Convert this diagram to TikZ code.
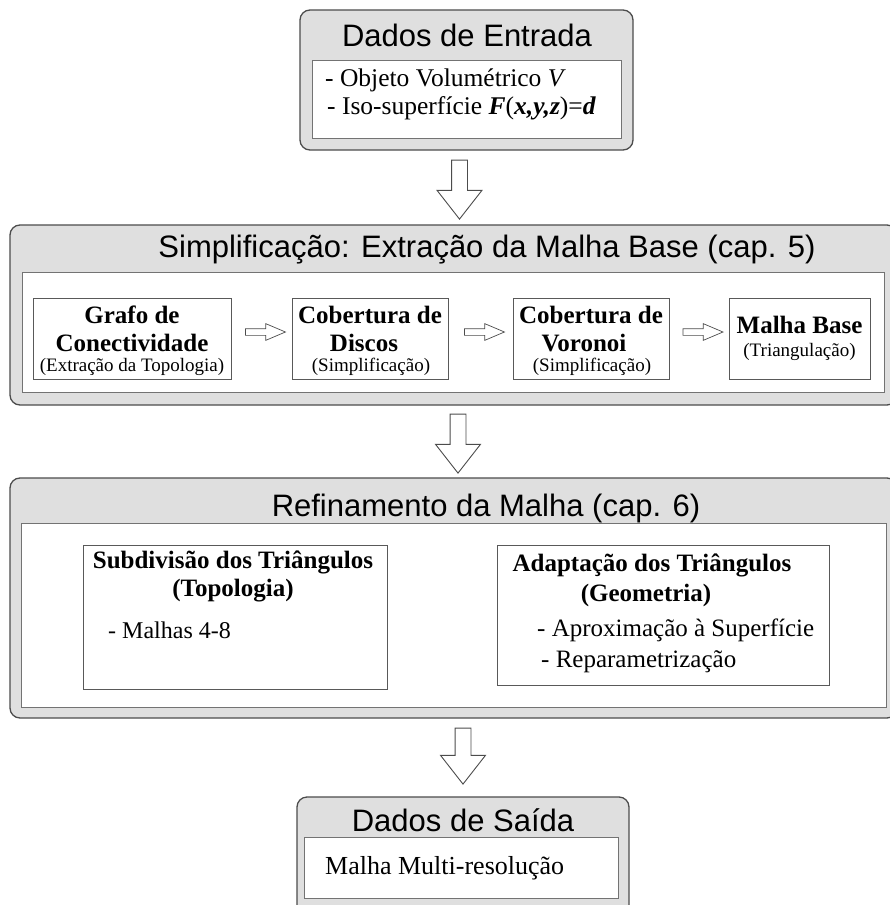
\documentclass[tikz,border=0pt]{standalone}
\usepackage{fontspec}
\setmainfont{Liberation Serif}
\newfontfamily\arialfont{Liberation Sans}
\usetikzlibrary{shapes.arrows,calc}

\begin{document}
\begin{tikzpicture}[x=1pt,y=-1pt]
        \tikzstyle{etapa}=[draw=black!70,line width=1.3pt,fill=gray!25,rounded corners=10pt,inner sep=0pt]
        \tikzstyle{painel}=[draw=black!55,line width=0.9pt,fill=white,inner sep=0pt]
        \tikzstyle{bloco}=[draw=black!65,line width=0.9pt,fill=white,inner sep=0pt]
        \tikzstyle{titulo}=[font=\arialfont\fontsize{31}{36}\selectfont,inner sep=0pt]
        \tikzstyle{negrito}=[font=\bfseries\fontsize{25}{28}\selectfont,inner sep=0pt]
        \tikzstyle{nota}=[font=\fontsize{19}{22}\selectfont,inner sep=0pt]
        \tikzstyle{linha}=[font=\fontsize{25}{28}\selectfont,anchor=west,inner sep=0pt]
        \tikzstyle{seta}=[single arrow,draw=black!70,fill=white,line width=0.9pt,rotate=-90,anchor=tail,
                          minimum height=59pt,minimum width=44pt,single arrow head extend=14.5pt,
                          single arrow tip angle=76,inner sep=7.5pt]
        \tikzstyle{setinha}=[single arrow,draw=black!70,fill=white,line width=0.7pt,
                          minimum height=40pt,minimum width=16pt,single arrow head extend=5pt,
                          single arrow tip angle=46,inner sep=3pt]
        \useasboundingbox (0,0) rectangle (889,905);

        % dados de entrada
        \node [etapa,minimum width=333pt,minimum height=140pt] (entrada) at (466.5,80) {};
        \node [titulo] (tEntrada) at (467,35) {Dados de Entrada};
        \node [painel,minimum width=309pt,minimum height=78pt] (pEntrada) at (466.5,99) {};
        \node [linha,font=\fontsize{25.5}{28}\selectfont] (e1) at (325,80) {- Objeto Volumétrico \textit{V}};
        \node [linha,font=\fontsize{25.5}{28}\selectfont] (e2) at (327,108)
              {- Iso-superfície \textbf{\textit{F}}(\textbf{\textit{x,y,z}})=\textbf{\textit{d}}};
        \node [seta] (s1) at ($(entrada.south)+(-7,9)$) {};

        % simplificacao
        \node [etapa,minimum width=887pt,minimum height=180pt] (simpl) at (453.5,315) {};
        \node [titulo] (tSimpl) at (487,250) {Simplificação: Extração da Malha Base (cap. 5)};
        \node [painel,minimum width=862pt,minimum height=120pt] (pSimpl) at (453,332) {};
        \node [bloco,minimum width=198pt,minimum height=81pt] (grafo) at (132,338.5) {};
        \node [bloco,minimum width=156pt,minimum height=81pt] (discos) at (370,338.5) {};
        \node [bloco,minimum width=156pt,minimum height=81pt] (voronoi) at (591,338.5) {};
        \node [bloco,minimum width=141pt,minimum height=81pt] (base) at (799.5,338.5) {};
        \node [negrito] (g1) at (132,315) {Grafo de};
        \node [negrito] (g2) at (132,343) {Conectividade};
        \node [nota] (g3) at (132,367) {(Extração da Topologia)};
        \node [negrito] (d1) at (370,315) {Cobertura de};
        \node [negrito] (d2) at (364,343) {Discos};
        \node [nota] (d3) at (371,367) {(Simplificação)};
        \node [negrito] (v1) at (591,315) {Cobertura de};
        \node [negrito] (v2) at (584,343) {Voronoi};
        \node [nota] (v3) at (592,367) {(Simplificação)};
        \node [negrito] (b1) at (799.5,325) {Malha Base};
        \node [nota] (b2) at (799.5,352) {(Triangulação)};
        \node [setinha] (c1) at ($(grafo.east)!.5!(discos.west)+(0,-6.5)$) {};
        \node [setinha] (c2) at ($(discos.east)!.5!(voronoi.west)+(0,-6.5)$) {};
        \node [setinha] (c3) at ($(voronoi.east)!.5!(base.west)+(0,-6.5)$) {};
        \node [seta] (s2) at ($(simpl.south)+(4.5,8)$) {};

        % refinamento
        \node [etapa,minimum width=887pt,minimum height=240pt] (refin) at (453.5,598) {};
        \node [titulo] (tRefin) at (486,508) {Refinamento da Malha (cap. 6)};
        \node [painel,minimum width=865pt,minimum height=184pt] (pRefin) at (453.5,615) {};
        \node [bloco,minimum width=304pt,minimum height=144pt] (subdiv) at (235,617) {};
        \node [bloco,minimum width=332pt,minimum height=140pt] (adapt) at (663,615) {};
        \node [negrito] (r1) at (233,562) {Subdivisão dos Triângulos};
        \node [negrito] (r2) at (233,591) {(Topologia)};
        \node [linha,font=\fontsize{24}{28}\selectfont] (r3) at (108,630) {- Malhas 4-8};
        \node [negrito] (a1) at (652,565) {Adaptação dos Triângulos};
        \node [negrito] (a2) at (646,595) {(Geometria)};
        \node [linha] (a3) at (537,630) {- Aproximação à Superfície};
        \node [linha] (a4) at (541,662) {- Reparametrização};
        \node [seta,minimum height=56pt] (s3) at ($(refin.south)+(9.5,9)$) {};

        % dados de saida
        \node [etapa,minimum width=332pt,minimum height=128pt] (saida) at (463,861) {};
        \node [titulo] (tSaida) at (463,820) {Dados de Saída};
        \node [painel,minimum width=314pt,minimum height=61pt] (pSaida) at (461,867.5) {};
        \node [linha,font=\fontsize{26}{30}\selectfont] (m1) at (325,868) {Malha Multi-resolução};
\end{tikzpicture}
\end{document}
